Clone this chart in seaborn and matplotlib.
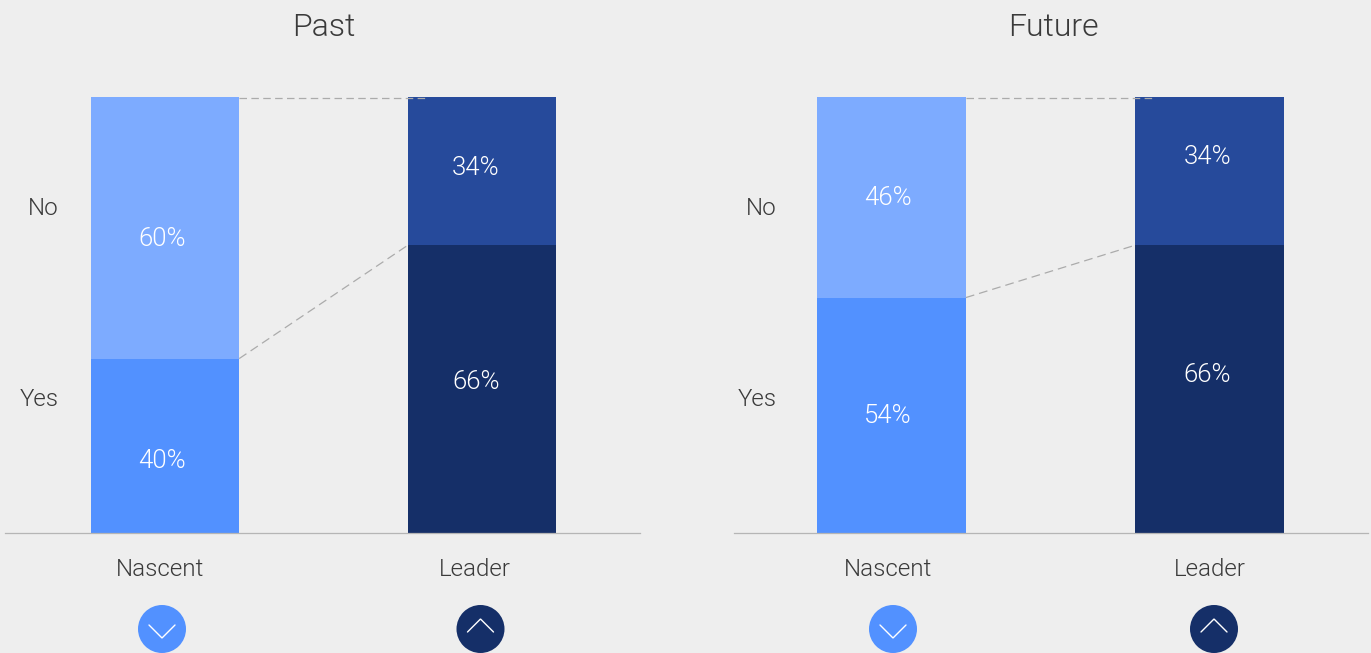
import matplotlib
matplotlib.use("Agg")
import matplotlib.pyplot as plt
from matplotlib.patches import Circle
import seaborn as sns

# Survey shares by company group
groups = ["Nascent", "Leader"]
past_yes = [40, 66]
past_no = [60, 34]
future_yes = [54, 66]
future_no = [46, 34]

BG = "#EEEEEE"
TEXT = "#3A3A3A"
YES_COLORS = ["#5291FF", "#152F68"]
NO_COLORS = ["#7DABFF", "#264A9B"]
BAR_WIDTH = 0.468

W, H = 1371, 653
sns.set_theme(style="white", rc={"figure.facecolor": BG, "axes.facecolor": BG})
plt.rcParams["font.family"] = ["Roboto", "Liberation Sans", "DejaVu Sans"]
plt.rcParams["font.weight"] = 300

fig = plt.figure(figsize=(W / 100, H / 100), dpi=100)


def panel_axes(left, right, top=97, bottom=533):
    return fig.add_axes([left / W, 1 - bottom / H, (right - left) / W, (bottom - top) / H])


def draw_panel(ax, title, yes, no, first_bar_px, pitch_px, left_px, right_px, title_x,
               value_dx, yes_dy, no_dy, group_dx, axis_label_x):
    # One stacked column per group, lower segment first
    for i, group in enumerate(groups):
        sns.barplot(x=[group], y=[yes[i]], order=groups, color=YES_COLORS[i],
                    width=BAR_WIDTH, saturation=1, linewidth=0, ax=ax)
        sns.barplot(x=[group], y=[no[i]], order=groups, color=NO_COLORS[i],
                    bottom=yes[i], width=BAR_WIDTH, saturation=1, linewidth=0, ax=ax)

    ax.set_xlim((left_px - first_bar_px) / pitch_px, (right_px - first_bar_px) / pitch_px)
    ax.set_ylim(0, 100)
    ax.set_xlabel("")
    ax.set_ylabel("")
    ax.set_xticks([])
    ax.set_yticks([])
    sns.despine(ax=ax, left=True, top=True, right=True)
    ax.spines["bottom"].set_color("#B5B5B5")
    ax.spines["bottom"].set_linewidth(0.9)

    # Connectors between the segment boundaries of the two bars
    x0, x1 = BAR_WIDTH / 2, 1 - BAR_WIDTH / 2
    ax.plot([x0, x1], [yes[0], yes[1]], color="#ABABAB", lw=0.9, dashes=(7, 4), zorder=5)
    ax.plot([x0, x1 + 0.054], [yes[0] + no[0] - 0.3] * 2, color="#ABABAB", lw=0.9,
            dashes=(6, 3.5), zorder=5, clip_on=False)

    # Percentages inside the segments, group names below the baseline
    for i in range(2):
        ax.annotate(f"{yes[i]}%", (i, yes[i] / 2), xytext=(value_dx[i], -yes_dy[i]),
                    textcoords="offset pixels", ha="center", va="center",
                    color="white", fontsize=18.5)
        ax.annotate(f"{no[i]}%", (i, yes[i] + no[i] / 2), xytext=(value_dx[i], -no_dy[i]),
                    textcoords="offset pixels", ha="center", va="center",
                    color="white", fontsize=18.5)
        ax.annotate(groups[i], (i, 0), xytext=(group_dx[i], -37),
                    textcoords="offset pixels", ha="center", va="center",
                    color=TEXT, fontsize=17.4)

    fig.text(title_x / W, 1 - 27 / H, title, ha="center", va="center",
             color=TEXT, fontsize=23)
    fig.text(axis_label_x / W, 1 - 209 / H, "No", ha="right", va="center",
             color=TEXT, fontsize=17.4)
    fig.text(axis_label_x / W, 1 - 400 / H, "Yes", ha="right", va="center",
             color=TEXT, fontsize=17.4)


draw_panel(panel_axes(5, 640), "Past", past_yes, past_no, 165, 317, 5, 640, 324,
           (-3, -6), (15, -7), (11, -3), (-5, -7), 59)
draw_panel(panel_axes(734, 1368), "Future", future_yes, future_no, 891.5, 318, 734, 1368, 1053,
           (-4, -2), (1, -14), (1, -14), (-3, 0), 777)

# Round trend badges under the bars, laid out in pixel units
overlay = fig.add_axes([0, 0, 1, 1], facecolor="none")
overlay.set_xlim(0, W)
overlay.set_ylim(H, 0)
overlay.axis("off")
badges = [(162, YES_COLORS[0], "down"), (480.5, YES_COLORS[1], "up"),
          (893, YES_COLORS[0], "down"), (1214, YES_COLORS[1], "up")]
for cx, color, direction in badges:
    cy = 629
    overlay.add_patch(Circle((cx, cy), 24, facecolor=color, edgecolor="none"))
    tip, arm = (cy + 9, cy - 4) if direction == "down" else (cy - 10, cy + 3)
    overlay.plot([cx - 13, cx, cx + 13], [arm, tip, arm], color="white", lw=1.0,
                 solid_joinstyle="miter")

fig.savefig("out.png", dpi=100, facecolor=BG)
